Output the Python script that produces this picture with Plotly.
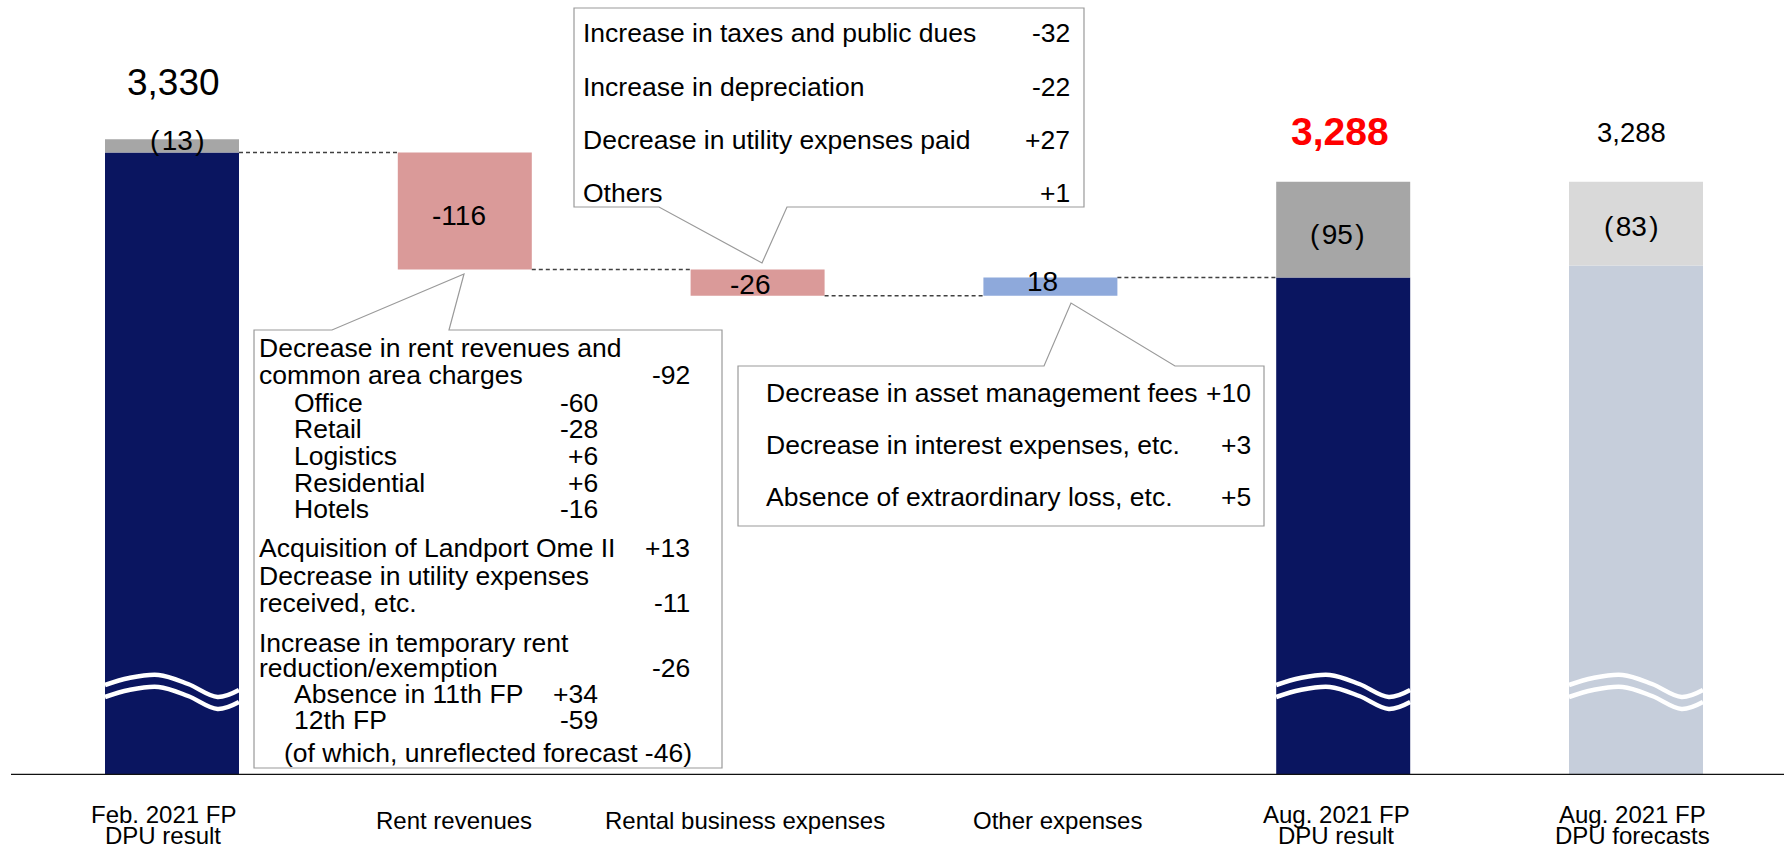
import plotly.graph_objects as go

# ---------------- data ----------------
categories = [["Feb. 2021 FP", "DPU result"], ["Rent revenues"], ["Rental business expenses"],
              ["Other expenses"], ["Aug. 2021 FP", "DPU result"], ["Aug. 2021 FP", "DPU forecasts"]]

start_dpu = 3330
start_adj = 13
changes = [-116, -26, 18]
result_dpu = 3288
result_adj = 95
forecast_dpu = 3288
forecast_adj = 83
axis_floor = 2700
axis_top = 3468

rent_labels = ["Decrease in rent revenues and", "common area charges", "Office", "Retail", "Logistics",
               "Residential", "Hotels", "Acquisition of Landport Ome II", "Decrease in utility expenses",
               "received, etc.", "Increase in temporary rent", "reduction/exemption",
               "Absence in 11th FP", "12th FP", "(of which, unreflected forecast -46)"]
rent_values = ["", "-92", "-60", "-28", "+6", "+6", "-16", "+13", "", "-11", "", "-26", "+34", "-59", ""]

rental_labels = ["Increase in taxes and public dues", "Increase in depreciation",
                 "Decrease in utility expenses paid", "Others"]
rental_values = ["-32", "-22", "+27", "+1"]

other_labels = ["Decrease in asset management fees", "Decrease in interest expenses, etc.",
                "Absence of extraordinary loss, etc."]
other_values = ["+10", "+3", "+5"]

# ---------------- layout helpers ----------------
W, H = 1784, 851
PB = 775                      # pixel row of the plot bottom / axis
X0PX, XSTEP = 172.0, 292.8    # pixel centre of first category, category spacing
BAR_W = 134 / XSTEP
FONT = "Liberation Sans, Arial, sans-serif"
HS = "\u200a"                 # hair space used inside the parentheses
LABEL_DX = [-9, -11, -13, 7, -7, -4]   # small horizontal offsets of the category labels (px)

NAVY = "#0A1560"
GREY = "#A6A6A6"
LGREY = "#D9D9D9"
STEEL = "#C6CEDB"
PINK = "#DA9A99"
BLUE = "#8EA9DB"
BORDER = "#9A9A9A"


def px(x):
    return x / W


def py(y):
    return (PB - y) / PB


def path(points):
    return "M " + " L ".join(f"{px(a):.5f},{py(b):.5f}" for a, b in points) + " Z"


fig = go.Figure()

# base bars
navy_start = start_dpu - start_adj
navy_result = result_dpu - result_adj
steel_fc = forecast_dpu - forecast_adj

fig.add_trace(go.Bar(x=[0, 4], y=[navy_start - axis_floor, navy_result - axis_floor], base=axis_floor,
                     width=BAR_W, marker=dict(color=NAVY, line_width=0)))
fig.add_trace(go.Bar(x=[0, 4], y=[start_adj, result_adj], base=[navy_start, navy_result],
                     width=BAR_W, marker=dict(color=GREY, line_width=0)))
fig.add_trace(go.Bar(x=[5], y=[steel_fc - axis_floor], base=axis_floor,
                     width=BAR_W, marker=dict(color=STEEL, line_width=0)))
fig.add_trace(go.Bar(x=[5], y=[forecast_adj], base=[steel_fc],
                     width=BAR_W, marker=dict(color=LGREY, line_width=0)))

# floating change bars
level = navy_start
levels = [level]
bases, heights, colors = [], [], []
for c in changes:
    bases.append(level + min(c, 0))
    heights.append(abs(c))
    colors.append(PINK if c < 0 else BLUE)
    level += c
    levels.append(level)
fig.add_trace(go.Bar(x=[1, 2, 3], y=heights, base=bases, width=BAR_W,
                     marker=dict(color=colors, line_width=0)))

# dashed connectors
for i, lv in enumerate(levels):
    fig.add_shape(type="line", xref="x", yref="y", x0=i + BAR_W / 2, x1=i + 1 - BAR_W / 2, y0=lv, y1=lv,
                  line=dict(color="#404040", width=1.5, dash="4px,3px"))

# wavy break marks (decoration)
wave_t = [0, 0.18, 0.4, 0.62, 0.84, 1.0]
wave_py = [685, 678, 675, 684, 697, 690]
units_per_px = (axis_top - axis_floor) / PB
for xi in [0, 4, 5]:
    for off in [0, 12]:
        xs = [xi - BAR_W / 2 + t * BAR_W for t in wave_t]
        ys = [axis_floor + (PB - (p + off)) * units_per_px for p in wave_py]
        fig.add_trace(go.Scatter(x=xs, y=ys, mode="lines", line=dict(color="white", width=4.5, shape="spline"),
                                 hoverinfo="skip"))

# axis line
fig.add_shape(type="line", xref="paper", yref="y", x0=px(11), x1=1, y0=axis_floor, y1=axis_floor,
              line=dict(color="#111111", width=2.5))

# callout boxes
fig.add_shape(type="path", xref="paper", yref="paper", layer="above",
              path=path([(254, 330), (332, 330), (464, 274), (449, 330), (722, 330), (722, 768), (254, 768)]),
              fillcolor="white", line=dict(color=BORDER, width=1.2))
fig.add_shape(type="path", xref="paper", yref="paper", layer="above",
              path=path([(574, 8), (1084, 8), (1084, 207), (787, 207), (762, 263), (659, 207), (574, 207)]),
              fillcolor="white", line=dict(color=BORDER, width=1.2))
fig.add_shape(type="path", xref="paper", yref="paper", layer="above",
              path=path([(738, 366), (1044, 366), (1071, 303), (1175, 366), (1264, 366), (1264, 526), (738, 526)]),
              fillcolor="white", line=dict(color=BORDER, width=1.2))


def txt(x, y, s, size=26.5, anchor="left", color="black"):
    fig.add_annotation(xref="paper", yref="paper", x=px(x), y=py(y), text=s,
                       showarrow=False, xanchor=anchor, yanchor="middle", borderpad=0,
                       font=dict(family=FONT, size=size, color=color))


# rent box text
rent_y = [348, 375, 403, 429, 456, 483, 509, 548, 576, 603, 643, 668, 694, 720, 753]
rent_indent = [0, 0, 1, 1, 1, 1, 1, 0, 0, 0, 0, 0, 1, 1, 2]
indent_x = {0: 258, 1: 293, 2: 283}
for lab, val, yy, ind in zip(rent_labels, rent_values, rent_y, rent_indent):
    txt(indent_x[ind], yy, lab)
    if val:
        txt(599 if ind == 1 else 691, yy, val, anchor="right")

# rental expenses box text
for lab, val, yy in zip(rental_labels, rental_values, [33, 87, 140, 193]):
    txt(582, yy, lab)
    txt(1071, yy, val, anchor="right")

# other expenses box text
for lab, val, yy in zip(other_labels, other_values, [393, 445, 497]):
    txt(765, yy, lab)
    txt(1252, yy, val, anchor="right")


def val_label(x, y, s, xs=0, ys=0, size=28, color="black", bold=False):
    fig.add_annotation(xref="x", yref="y", x=x, y=y, text=f"<b>{s}</b>" if bold else s, showarrow=False,
                       xanchor="center", yanchor="middle", xshift=xs, yshift=ys,
                       font=dict(family=FONT, size=size, color=color))


val_label(0, start_dpu, f"{start_dpu:,}", xs=1, ys=57, size=37)
val_label(0, start_dpu, f"({HS}{start_adj}{HS})", xs=5, ys=-1)
val_label(4, result_dpu, f"{result_dpu:,}", xs=-3, ys=50, size=39, color="#FF0000", bold=True)
val_label(4, navy_result + result_adj / 2, f"({HS}{result_adj}{HS})", xs=-6, ys=-5)
val_label(5, forecast_dpu, f"{forecast_dpu:,}", xs=-5, ys=49, size=27.5)
val_label(5, steel_fc + forecast_adj / 2, f"({HS}{forecast_adj}{HS})", xs=-5, ys=-3)

val_label(1, bases[0] + heights[0] / 2, f"{changes[0]}", xs=-6, ys=-5)
val_label(2, bases[1] + heights[1] / 2, f"{changes[1]}", xs=-8, ys=-2)
val_label(3, bases[2] + heights[2], f"{changes[2]}", xs=-8, ys=-4)

# category labels
for i, lines in enumerate(categories):
    cx = X0PX + XSTEP * i + LABEL_DX[i]
    if len(lines) == 1:
        txt(cx, 820, lines[0], size=24, anchor="center")
    else:
        txt(cx, 815, lines[0], size=24, anchor="center")
        txt(cx, 836, lines[1], size=24, anchor="center")

fig.update_layout(
    width=W, height=H, margin=dict(l=0, r=0, t=0, b=H - PB),
    plot_bgcolor="white", paper_bgcolor="white", showlegend=False, barmode="overlay",
    xaxis=dict(range=[-X0PX / XSTEP, (W - X0PX) / XSTEP], visible=False, fixedrange=True),
    yaxis=dict(range=[axis_floor, axis_top], visible=False, fixedrange=True),
    hovermode=False,
)

fig.write_html("out.html", config={"displayModeBar": False},
               post_script="document.body.style.margin='0';document.body.style.overflow='hidden';")
